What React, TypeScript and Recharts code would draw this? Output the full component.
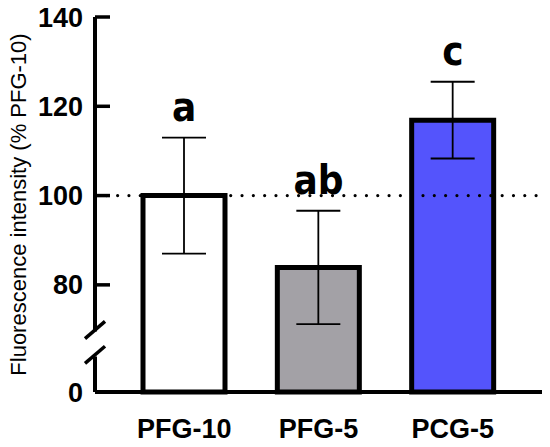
import React from "react";
import {
  ComposedChart,
  Bar,
  Cell,
  ErrorBar,
  Scatter,
  XAxis,
  YAxis,
  ReferenceLine,
} from "recharts";

// groups and their means / SD (% of PFG-10)
const groups = ["PFG-10", "PFG-5", "PCG-5"];
const means = [100, 83.9, 116.9];
const sds = [13, 12.7, 8.6];
const letters = ["a", "ab", "c"];
const fills = ["#ffffff", "#a3a1a6", "#5454fc"];

// broken y axis: real 0 is drawn where 56 would be
const axisFloor = 56;
const breakAt = 67.1;
const yTicks = [0, 80, 100, 120, 140];

const data = groups.map((g, i) => ({
  name: g,
  mean: means[i],
  err: sds[i],
  upper: means[i] + sds[i],
  letter: letters[i],
}));

const FONT = "'Liberation Sans', Arial, sans-serif";
const TICK_MARGIN = 12;

const YTick = (props: any) => {
  const { x, y, payload } = props;
  const ax = x + TICK_MARGIN;
  if (payload.value === breakAt) {
    return (
      <g stroke="#000" strokeWidth={3.5}>
        <line x1={ax - 10} y1={y - 12.4 + 8.6} x2={ax + 10} y2={y - 12.4 - 8.6} />
        <line x1={ax - 10} y1={y + 12.4 + 8.6} x2={ax + 10} y2={y + 12.4 - 8.6} />
      </g>
    );
  }
  const label = payload.value === axisFloor ? "0" : String(payload.value);
  return (
    <g>
      <line x1={ax} y1={y} x2={ax + 15} y2={y} stroke="#000" strokeWidth={3.5} />
      <text
        x={x}
        y={y}
        dy={9.5}
        textAnchor="end"
        fontFamily={FONT}
        fontWeight="bold"
        fontSize={27}
        fill="#000"
      >
        {label}
      </text>
    </g>
  );
};

const YLabel = (props: any) => {
  const { viewBox } = props;
  const cx = 18;
  const cy = viewBox.y + viewBox.height / 2;
  return (
    <text
      x={cx}
      y={cy}
      transform={`rotate(-90, ${cx}, ${cy})`}
      textAnchor="middle"
      dominantBaseline="central"
      fontFamily={FONT}
      fontSize={22}
      fill="#000"
    >
      Fluorescence intensity (% PFG-10)
    </text>
  );
};

const LetterMark = (props: any) => {
  const { cx, cy, payload } = props;
  return (
    <text
      x={cx}
      y={cy - 17}
      textAnchor="middle"
      fontFamily="'DejaVu Sans Condensed', 'DejaVu Sans', sans-serif"
      fontStretch="condensed"
      fontWeight="bold"
      fontSize={40}
      fill="#000"
    >
      {payload.letter}
    </text>
  );
};

export default function App() {
  const tickValues = [axisFloor, breakAt, ...yTicks.slice(1)];
  return (
    <div style={{ position: "absolute", left: 0, top: 0, background: "#fff" }}>
      <ComposedChart
        width={550}
        height={447}
        data={data}
        margin={{ top: 17, right: 8, bottom: 0, left: 0 }}
      >
        <XAxis
          dataKey="name"
          padding={{ left: 22, right: 22 }}
          height={55}
          axisLine={{ stroke: "#000", strokeWidth: 4 }}
          tickLine={false}
          tickSize={0}
          tickMargin={27}
          tick={{ fill: "#000", fontFamily: FONT, fontWeight: "bold", fontSize: 27 }}
        />
        <XAxis
          xAxisId="top"
          dataKey="name"
          orientation="top"
          height={0}
          tick={false}
          tickLine={false}
          axisLine={{ stroke: "#000", strokeWidth: 4 }}
        />
        <YAxis
          type="number"
          domain={[axisFloor, 140]}
          ticks={tickValues}
          interval={0}
          width={95}
          tickSize={0}
          tickMargin={TICK_MARGIN}
          tickLine={false}
          axisLine={{ stroke: "#000", strokeWidth: 4, strokeDasharray: "314.5 25 400" }}
          tick={<YTick />}
          label={<YLabel />}
        />
        <YAxis
          yAxisId="right"
          orientation="right"
          type="number"
          domain={[axisFloor, 140]}
          width={0}
          tick={false}
          tickLine={false}
          axisLine={{ stroke: "#000", strokeWidth: 4 }}
        />
        <Bar
          dataKey="mean"
          barSize={82}
          stroke="#000"
          strokeWidth={5}
          isAnimationActive={false}
        >
          {data.map((d, i) => (
            <Cell key={d.name} fill={fills[i]} />
          ))}
          <ErrorBar dataKey="err" width={22} stroke="#000" strokeWidth={1.8} />
        </Bar>
        <ReferenceLine
          y={100}
          stroke="#000"
          strokeWidth={3.2}
          strokeLinecap="round"
          strokeDasharray="0.01 11.3"
        />
        <Scatter dataKey="upper" shape={<LetterMark />} isAnimationActive={false} />
      </ComposedChart>
    </div>
  );
}
